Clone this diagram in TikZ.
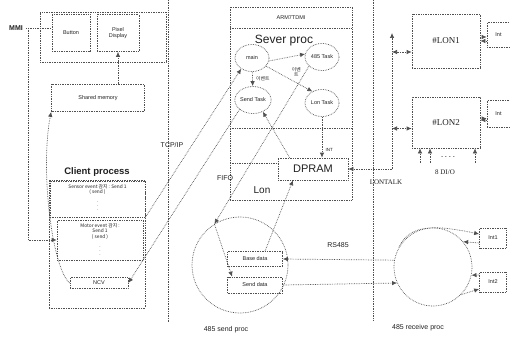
\documentclass[tikz,border=0pt]{standalone}
\usepackage{fontspec}
\setmainfont{Liberation Sans}
\newfontfamily\krfont{Noto Sans CJK KR}
\newfontfamily\lonfont{Liberation Serif}
\usepackage{tikz}
\usetikzlibrary{arrows.meta,shapes.geometric,calc}
\definecolor{lnGray}{HTML}{505050}
\definecolor{txGray}{HTML}{202020}

\tikzset{
  dotln/.style={draw=lnGray, densely dotted, line width=0.7pt},
  arr/.style={dotln, -{Latex[length=5pt,width=4.5pt]}},
  dbl/.style={dotln, {Latex[length=5pt,width=4.5pt]}-{Latex[length=5pt,width=4.5pt]}},
  bx/.style={dotln, rectangle, inner sep=1pt, align=center},
  task/.style={dotln, ellipse, minimum width=34pt, minimum height=27pt, inner sep=0pt},
  mid/.style={font=\fontsize{7}{8}\selectfont},
}

\begin{document}
\begin{tikzpicture}[x=1pt, y=-1pt, every node/.style={font=\fontsize{5.5}{6.5}\selectfont, text=txGray}]
  \useasboundingbox (0,0) rectangle (510,342);
  \draw[dotln] (168,0) -- (168,322);
  \draw[dotln] (373,0) -- (373,320);

  % MMI and client side
  \node[bx, minimum width=126pt, minimum height=50pt] (mmiBox) at (103,37) {};
  \node[bx, minimum width=38pt, minimum height=37pt] (btn) at (71,33) {Button};
  \node[bx, minimum width=42pt, minimum height=37pt] (pix) at (118,33) {Pixel\\Display};
  \node[font=\fontsize{7}{8}\selectfont\bfseries] (mmi) at (16,28) {MMI};
  \node[bx, minimum width=93pt, minimum height=27pt] (shm) at (98,98) {Shared memory};
  \node[font=\fontsize{9.5}{10}\selectfont\bfseries] (cliLbl) at (97,172) {Client process};
  \node[bx, minimum width=96pt, minimum height=128pt] (cli) at (97,244) {};
  \node[bx, minimum width=95pt, minimum height=36pt] (ev1) at (97.5,199) {};
  \node[anchor=north, align=center, font=\krfont\fontsize{4.8}{5.8}\selectfont] (ev1t) at (ev1.north) {Sensor event 감지 : Send 1\\( send )\\$\vdots$};
  \node[bx, minimum width=86pt, minimum height=40pt] (ev2) at (100,240) {};
  \node[anchor=north, align=center, font=\krfont\fontsize{4.8}{5.8}\selectfont] (ev2t) at (ev2.north) {Motor event 감지 :\\Send 1\\( send )\\$\vdots$};
  \node[bx, minimum width=58pt, minimum height=11pt] (ncv) at (99,283) {NCV};
  \coordinate (mmiJ) at (28,28);

  \draw[dotln] (mmi.east) -- (btn.west |- mmi.east);
  \draw[arr] (mmiJ) |- (ev2.west);
  \draw[arr] (shm.north -| pix.south) -- (pix.south);
  \draw[arr] (ncv.west) .. controls (52,268) and (40,170) .. (shm.south west);

  % ARM board
  \node[bx, minimum width=122pt, minimum height=193pt] (arm) at (291,103.5) {};
  \node (armLbl) at (291,18) {ARM7TDMI};
  \draw[dotln] (230,28) -- (352,28);
  \draw[dotln] (230,128) -- (352,128);
  \node[font=\fontsize{12}{13}\selectfont] (sever) at (284,41) {Sever proc};
  \node[task] (mainT) at (252,58) {main};
  \node[task] (t485) at (322,57) {485 Task};
  \node[task] (sendT) at (253,100) {Send Task};
  \node[task] (lonT) at (322,103) {Lon Task};
  \node[bx, minimum width=70pt, minimum height=22pt, font=\fontsize{11}{12}\selectfont] (dpram) at (313,169) {DPRAM};
  \draw[dotln] (230,163) -- (278,163);
  \node[font=\fontsize{10}{11}\selectfont] (lonLbl) at (262,190) {Lon};

  \draw[arr] (mainT) -- node[right, font=\krfont\fontsize{4.8}{5.8}\selectfont] {이벤트} (sendT);
  \draw[arr] (mainT.-10) -- (t485.170);
  \draw[arr] (mainT.-30) -- node[above right=-1pt, align=center, font=\krfont\fontsize{4.8}{5}\selectfont] {이벤\\트} (lonT.130);
  \draw[arr] ([xshift=12pt]dpram.north west) -- (sendT.-50);
  \draw[arr] (lonT.south) -- node[right, pos=0.8, font=\fontsize{4.5}{5}\selectfont] {INT} (lonT.south |- dpram.north);

  % client to server links
  \draw[arr] (ev1.south east) -- (mainT.225);
  \draw[arr] (sendT.215) -- (ncv.east);
  \node[mid] (tcp) at (172,145) {TCP/IP};

  % 485 send proc
  \node[dotln, circle, minimum size=96pt] (sendC) at (240,265) {};
  \node[bx, minimum width=55pt, minimum height=15pt] (base) at (255,259) {Base data};
  \node[bx, minimum width=55pt, minimum height=16pt] (sendD) at (255,285) {Send data};
  \draw[arr] (t485.215) -- (sendC.122);
  \draw[arr] (sendC.122) -- (sendD.160);
  \draw[arr] ([xshift=10pt]base.north) -- ([xshift=-20pt]dpram.south);
  \node[mid] (fifo) at (225,178) {FIFO};
  \node[mid] (rs) at (338,245) {RS485};
  \node[mid] (sendLbl) at (226,330) {485 send proc};

  % LON nodes
  \node[bx, minimum width=68pt, minimum height=54pt, font=\lonfont\fontsize{9}{10}\selectfont] (lon1) at (446,41) {\#LON1};
  \node[bx, minimum width=68pt, minimum height=51pt, font=\lonfont\fontsize{9}{10}\selectfont] (lon2) at (446,122.5) {\#LON2};
  \node[bx, minimum width=23pt, minimum height=25pt] (intA) at (498.5,35) {Int};
  \node[bx, minimum width=23pt, minimum height=27pt] (intB) at (498.5,114) {Int};
  \foreach \b/\c in {lon1/intA, lon2/intB} {
    \draw[arr] ([yshift=4pt]\b.east) -- ([yshift=4pt]\b.east -| \c.west);
    \draw[arr] ([yshift=-6pt]\c.west) -- ([yshift=-6pt]\c.west -| \b.east);
  }
  \coordinate (busTop) at (392,33);
  \coordinate (busBot) at (392,169);
  \draw[arr] (busBot) -- (busTop);
  \draw[arr] (busBot) -- (dpram.east);
  \foreach \b/\dy in {lon1/-11, lon2/-6}
    \draw[dbl] ([yshift=\dy pt]\b.west -| busTop) -- ([yshift=\dy pt]\b.west);
  \node[font=\lonfont\fontsize{7}{8}\selectfont] (lonTalk) at (386,182) {LONTALK};
  \foreach \x [count=\i] in {420,430,475} {
    \coordinate (dio\i) at (\x,163);
    \draw[arr] (dio\i) -- (dio\i |- lon2.south);
  }
  \node[font=\bfseries\fontsize{6}{6}\selectfont] (dots) at (448,157) {. . . .};
  \node[font=\lonfont\fontsize{7}{8}\selectfont] (dio) at (445,172) {8 DI/O};

  % 485 receive proc
  \node[dotln, circle, minimum size=78pt] (rcv) at (433,267) {};
  \node[bx, minimum width=27pt, minimum height=20pt] (int1) at (493,238) {Int1};
  \node[bx, minimum width=27pt, minimum height=20pt] (int2) at (493,282) {Int2};
  \draw[arr] (rcv.150) .. controls (410,222) and (440,226) .. ([yshift=4pt]int1.west);
  \draw[arr] ([yshift=-5pt]int1.west) -- (rcv.40);
  \draw[arr] ([yshift=7pt]int2.west) -- (rcv.-12);
  \draw[arr] (rcv.-45) -- ([yshift=-7pt]int2.west);
  \draw[arr] (rcv.170) -- (base.east);
  \draw[arr] (sendD.east) -- (rcv.204);
  \node[mid] (rcvLbl) at (418,328) {485 receive proc};
\end{tikzpicture}
\end{document}
